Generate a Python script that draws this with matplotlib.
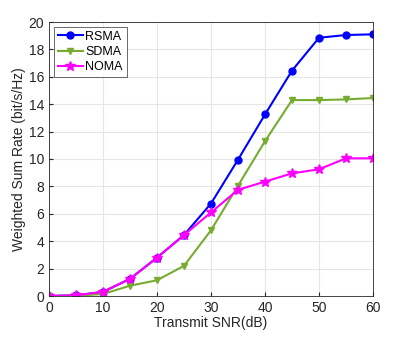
import matplotlib
matplotlib.use("Agg")
import matplotlib.pyplot as plt

snr = [0, 5, 10, 15, 20, 25, 30, 35, 40, 45, 50, 55, 60]
rsma = [0.0, 0.05, 0.3, 1.25, 2.8, 4.45, 6.75, 9.95, 13.25, 16.45, 18.85, 19.05, 19.1]
sdma = [0.0, 0.02, 0.15, 0.75, 1.15, 2.2, 4.8, 8.05, 11.3, 14.3, 14.3, 14.35, 14.45]
noma = [0.0, 0.05, 0.3, 1.25, 2.8, 4.45, 6.1, 7.75, 8.35, 8.95, 9.25, 10.05, 10.05]
xticks = [0, 10, 20, 30, 40, 50, 60]
yticks = [0, 2, 4, 6, 8, 10, 12, 14, 16, 18, 20]

plt.rcParams['font.family'] = ['Liberation Sans', 'DejaVu Sans']
fig = plt.figure(figsize=(4.15, 3.37), dpi=100)
ax = fig.add_axes([49/415, 1-296/337, (373-49)/415, (296-22)/337])

ax.plot(snr, rsma, color='#0000ff', marker='o', markersize=5, lw=1.5, label='RSMA')
ax.plot(snr, sdma, color='#77ac30', marker='v', markersize=5, lw=1.5, label='SDMA')
ax.plot(snr, noma, color='#ff00ff', marker='*', markersize=7, lw=1.5, label='NOMA')

ax.set_xlim(0, 60)
ax.set_ylim(0, 20)
ax.set_xticks(xticks)
ax.set_yticks(yticks)
ax.grid(True, color='#e6e6e6', lw=0.8)
ax.set_axisbelow(True)
ax.tick_params(direction='in', labelsize=10, colors='#262626', length=3, top=False, right=False)
for s in ax.spines.values():
    s.set_color('#262626')
    s.set_linewidth(0.6)
ax.set_xlabel('Transmit SNR(dB)', fontsize=10, color='#262626', labelpad=1)
ax.set_ylabel('Weighted Sum Rate (bit/s/Hz)', fontsize=10, color='#262626', labelpad=2)
leg = ax.legend(loc='upper left', fontsize=9, frameon=True, fancybox=False, borderpad=0.3,
                handlelength=2.0, handletextpad=0.2, labelspacing=0.25, borderaxespad=0.4)
leg.get_frame().set_edgecolor('#262626')
leg.get_frame().set_linewidth(0.6)

fig.savefig('out.png', dpi=100)
